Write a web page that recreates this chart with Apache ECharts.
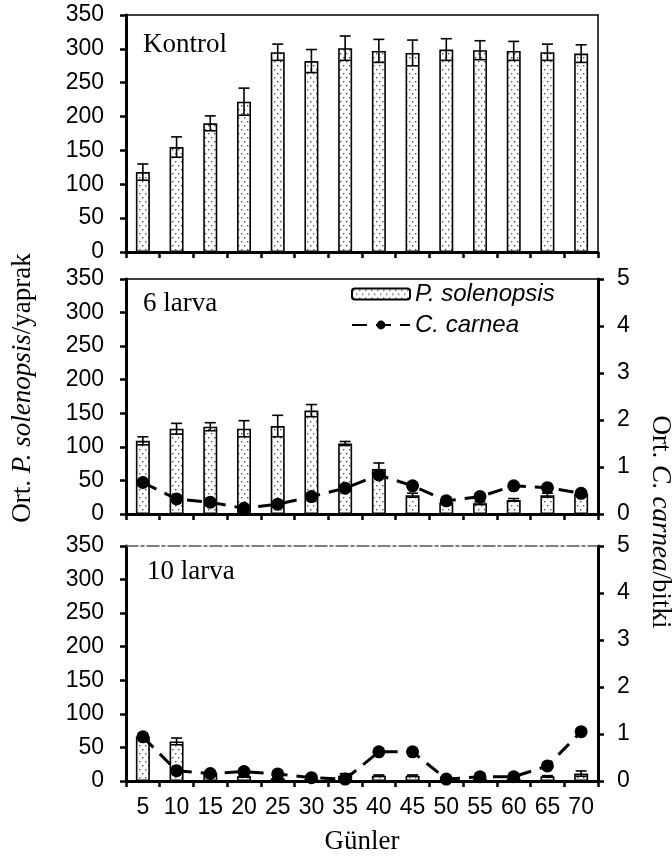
<!DOCTYPE html>
<html>
<head>
<meta charset="utf-8">
<script src="https://cdn.jsdelivr.net/npm/echarts@6/dist/echarts.min.js"></script>
<style>
html, body { margin: 0; padding: 0; background: #fff; }
#chart-container { width: 672px; height: 857px; }
</style>
</head>
<body>
<div id="chart-container"></div>
<script>
var days = ['5', '10', '15', '20', '25', '30', '35', '40', '45', '50', '55', '60', '65', '70'];
var leftTicks = [0, 350, 50];   // min, max, interval
var rightTicks = [0, 5, 1];

// Kontrol
var kontrol = [118, 155, 190, 222, 295, 282, 301, 297, 294, 299, 298, 297, 295, 293];
var kontrolErr = [12, 15, 11, 20, 12, 17, 18, 17, 19, 16, 14, 14, 12, 13];
// 6 larva
var larva6 = [109, 127, 130, 127, 131, 154, 105, 67, 28, 17, 16, 21, 28, 30];
var larva6Err = [6, 8, 6, 12, 16, 9, 3, 9, 3, 2, 2, 2, 3, 3];
var carnea6 = [0.67, 0.32, 0.25, 0.12, 0.21, 0.37, 0.55, 0.83, 0.6, 0.28, 0.37, 0.6, 0.56, 0.44];
// 10 larva
var larva10 = [66, 59, 12, 7, 4, 3, 8, 8, 8, 2, 3, 3, 7, 11];
var larva10Err = [2, 5, 2, 1, 1, 1, 3, 1, 1, 1, 1, 1, 1, 4];
var carnea10 = [0.94, 0.22, 0.16, 0.2, 0.15, 0.07, 0.04, 0.62, 0.62, 0.04, 0.09, 0.09, 0.32, 1.05];

// dotted fill
var pat = document.createElement('canvas');
pat.width = 6; pat.height = 8;
var pctx = pat.getContext('2d');
pctx.fillStyle = '#fff';
pctx.fillRect(0, 0, 6, 8);
pctx.fillStyle = '#555';
pctx.fillRect(1, 1, 1.4, 1.4);
pctx.fillRect(4, 5, 1.4, 1.4);
var dotFill = { image: pat, repeat: 'repeat' };

var chartDom = document.getElementById('chart-container');
var myChart = echarts.init(chartDom);

var sans = 'Liberation Sans';
var serif = 'Liberation Serif';
var tickFont = 23;
var serifFont = 27;

function errData(vals, errs) {
	return vals.map(function (v, i) { return [i, Math.max(0, v - errs[i]), v + errs[i]]; });
}

function errRender(params, api) {
	var x = api.value(0);
	var top = api.coord([x, api.value(2)]);
	var bot = api.coord([x, api.value(1)]);
	var w = 5.5;
	var st = { stroke: '#000', lineWidth: 1.6 };
	return {
		type: 'group',
		children: [
			{ type: 'line', shape: { x1: top[0], y1: top[1], x2: bot[0], y2: bot[1] }, style: st },
			{ type: 'line', shape: { x1: top[0] - w, y1: top[1], x2: top[0] + w, y2: top[1] }, style: st },
			{ type: 'line', shape: { x1: bot[0] - w, y1: bot[1], x2: bot[0] + w, y2: bot[1] }, style: st }
		]
	};
}

var grids = [
	{ left: 126, right: 74, top: 15, height: 237, containLabel: false, outerBoundsMode: 'none' },
	{ left: 126, right: 74, top: 279, height: 235, containLabel: false, outerBoundsMode: 'none' },
	{ left: 126, right: 74, top: 546, height: 235, containLabel: false, outerBoundsMode: 'none' }
];

var xAxes = [];
var yAxes = [];
for (var g = 0; g < 3; g++) {
	// bottom category axis
	xAxes.push({
		type: 'category',
		gridIndex: g,
		data: days,
		position: 'bottom',
		axisLine: { show: true, onZero: false, lineStyle: { color: '#000', width: 3 } },
		axisTick: { show: true, inside: false, length: 6, lineStyle: { color: '#000', width: 2.5 } },
		axisLabel: {
			show: g === 2,
			margin: 15,
			color: '#000',
			fontFamily: sans,
			fontSize: tickFont,
			interval: 0
		},
		name: g === 2 ? 'Günler' : '',
		nameLocation: 'middle',
		nameGap: 47,
		nameTextStyle: { color: '#000', fontFamily: serif, fontSize: serifFont }
	});
	// top border line
	xAxes.push({
		type: 'category',
		gridIndex: g,
		data: days,
		position: 'top',
		axisLine: {
			show: true,
			onZero: false,
			lineStyle: g === 2
				? { color: '#555', width: 1.5, type: [12, 3, 3, 3] }
				: { color: '#000', width: 1.5 }
		},
		axisTick: { show: false },
		axisLabel: { show: false }
	});
	// left value axis
	yAxes.push({
		type: 'value',
		gridIndex: g,
		min: leftTicks[0],
		max: leftTicks[1],
		interval: leftTicks[2],
		position: 'left',
		splitLine: { show: false },
		axisLine: { show: true, onZero: false, lineStyle: { color: '#000', width: 3 } },
		axisTick: { show: true, inside: false, length: 6, lineStyle: { color: '#000', width: 2.5 } },
		axisLabel: { margin: 22, color: '#000', fontFamily: sans, fontSize: tickFont }
	});
	// right axis
	if (g === 0) {
		yAxes.push({
			type: 'value',
			gridIndex: g,
			min: 0,
			max: 350,
			position: 'right',
			splitLine: { show: false },
			axisLine: { show: true, onZero: false, lineStyle: { color: '#000', width: 1.5 } },
			axisTick: { show: false },
			axisLabel: { show: false }
		});
	} else {
		yAxes.push({
			type: 'value',
			gridIndex: g,
			min: rightTicks[0],
			max: rightTicks[1],
			interval: rightTicks[2],
			position: 'right',
			splitLine: { show: false },
			axisLine: { show: true, onZero: false, lineStyle: { color: '#000', width: 3 } },
			axisTick: { show: true, inside: false, length: 6, lineStyle: { color: '#000', width: 2.5 } },
			axisLabel: { margin: 19, color: '#000', fontFamily: sans, fontSize: tickFont }
		});
	}
}

var barStyle = { color: dotFill, borderColor: '#000', borderWidth: 1.6 };
var lineStyle = { color: '#000', width: 3, type: [15, 9] };

function barSeries(idx, vals) {
	return {
		name: 'P. solenopsis',
		type: 'bar',
		xAxisIndex: idx * 2,
		yAxisIndex: idx * 2,
		data: vals,
		barWidth: 14,
		itemStyle: barStyle,
		z: 2
	};
}
function errSeries(idx, vals, errs) {
	return {
		type: 'custom',
		xAxisIndex: idx * 2,
		yAxisIndex: idx * 2,
		data: errData(vals, errs),
		encode: { x: 0, y: [1, 2] },
		renderItem: errRender,
		z: 3
	};
}
function lineSeries(idx, vals) {
	return {
		name: 'C. carnea',
		type: 'line',
		xAxisIndex: idx * 2,
		yAxisIndex: idx * 2 + 1,
		data: vals,
		symbol: 'circle',
		symbolSize: 13,
		itemStyle: { color: '#000' },
		lineStyle: lineStyle,
		z: 5
	};
}

var richTitle = {
	n: { fontFamily: serif, fontSize: serifFont, fill: '#000' },
	i: { fontFamily: serif, fontSize: serifFont, fontStyle: 'italic', fill: '#000' }
};

var option = {
	animation: false,
	backgroundColor: '#fff',
	grid: grids,
	xAxis: xAxes,
	yAxis: yAxes,
	legend: {
		data: ['P. solenopsis', 'C. carnea'],
		orient: 'vertical',
		left: 346,
		top: 277,
		itemWidth: 58,
		itemHeight: 11,
		itemGap: 7,
		textStyle: { color: '#000', fontFamily: sans, fontSize: 24, fontStyle: 'italic' }
	},
	graphic: [
		{ type: 'text', x: 143, y: 45, style: { text: 'Kontrol', fill: '#000', font: serifFont + 'px "Liberation Serif"', verticalAlign: 'middle' } },
		{ type: 'text', x: 143, y: 304, style: { text: '6 larva', fill: '#000', font: serifFont + 'px "Liberation Serif"', verticalAlign: 'middle' } },
		{ type: 'text', x: 147, y: 572, style: { text: '10 larva', fill: '#000', font: serifFont + 'px "Liberation Serif"', verticalAlign: 'middle' } },
		{
			type: 'text',
			x: 23,
			y: 388,
			rotation: Math.PI / 2,
			style: {
				text: '{n|Ort. }{i|P. solenopsis}{n|/yaprak}',
				align: 'center',
				verticalAlign: 'middle',
				rich: richTitle
			}
		},
		{
			type: 'text',
			x: 660,
			y: 522,
			rotation: -Math.PI / 2,
			style: {
				text: '{n|Ort. }{i|C. carnea}{n|/bitki}',
				align: 'center',
				verticalAlign: 'middle',
				rich: richTitle
			}
		}
	],
	series: [
		barSeries(0, kontrol),
		errSeries(0, kontrol, kontrolErr),
		barSeries(1, larva6),
		errSeries(1, larva6, larva6Err),
		lineSeries(1, carnea6),
		barSeries(2, larva10),
		errSeries(2, larva10, larva10Err),
		lineSeries(2, carnea10)
	]
};

myChart.setOption(option);

window.addEventListener('resize', function () {
	myChart.resize();
});
</script>
</body>
</html>
